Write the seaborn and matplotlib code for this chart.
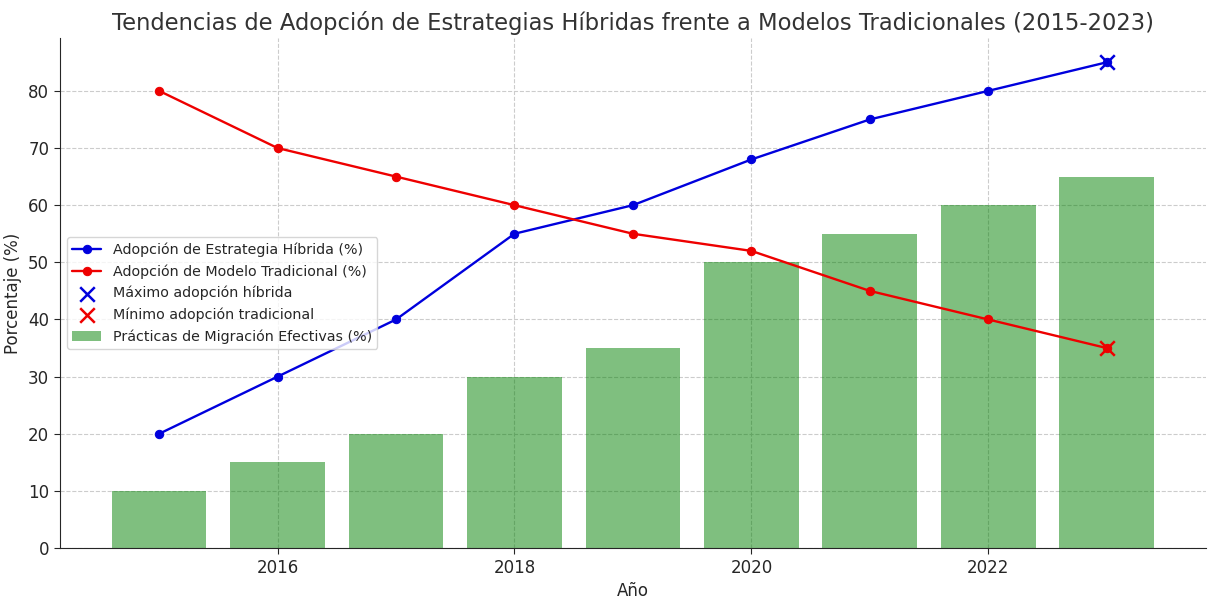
import numpy as np
import pandas as pd
import matplotlib
matplotlib.use("Agg")
import matplotlib.pyplot as plt
import seaborn as sns

years = [2015, 2016, 2017, 2018, 2019, 2020, 2021, 2022, 2023]
hibrida = [20, 30, 40, 55, 60, 68, 75, 80, 85]
tradicional = [80, 70, 65, 60, 55, 52, 45, 40, 35]
migracion = [10, 15, 20, 30, 35, 50, 55, 60, 65]

df = pd.DataFrame({"Año": years, "hibrida": hibrida,
                   "tradicional": tradicional, "migracion": migracion})

sns.set_style("white")
plt.rcParams['font.family'] = ['DejaVu Sans']

fig, ax = plt.subplots(figsize=(12.16, 6.03), dpi=100)

sns.barplot(data=df, x="Año", y="migracion", native_scale=True, color="green",
            alpha=0.5, width=0.8, saturation=1, linewidth=0, edgecolor="none",
            ax=ax, label="Prácticas de Migración Efectivas (%)", zorder=1)
sns.lineplot(data=df, x="Año", y="hibrida", color="#0000dd", marker="o",
             markeredgecolor="#0000dd", linewidth=1.7, markersize=6, ax=ax,
             label="Adopción de Estrategia Híbrida (%)", zorder=3)
sns.lineplot(data=df, x="Año", y="tradicional", color="#ee0000", marker="o",
             markeredgecolor="#ee0000", linewidth=1.7, markersize=6, ax=ax,
             label="Adopción de Modelo Tradicional (%)", zorder=3)

i_max = int(np.argmax(hibrida))
i_min = int(np.argmin(tradicional))
ax.scatter([years[i_max]], [hibrida[i_max]], color="#0000dd", marker="x", s=110,
           linewidths=1.8, label="Máximo adopción híbrida", zorder=4)
ax.scatter([years[i_min]], [tradicional[i_min]], color="#ee0000", marker="x", s=110,
           linewidths=1.8, label="Mínimo adopción tradicional", zorder=4)

ax.set_title("Tendencias de Adopción de Estrategias Híbridas frente a Modelos Tradicionales (2015-2023)",
             fontsize=16.3, color="#333333")
ax.set_xlabel("Año", fontsize=12)
ax.set_ylabel("Porcentaje (%)", fontsize=12)
ax.tick_params(axis="both", labelsize=12, length=4, left=True, bottom=True)
ax.grid(True, linestyle="--", color="#cccccc", linewidth=0.8)
ax.set_axisbelow(True)
sns.despine(ax=ax)

handles, labels = ax.get_legend_handles_labels()
order = ["Adopción de Estrategia Híbrida (%)", "Adopción de Modelo Tradicional (%)",
         "Máximo adopción híbrida", "Mínimo adopción tradicional",
         "Prácticas de Migración Efectivas (%)"]
hl = dict(zip(labels, handles))
ax.legend([hl[k] for k in order], order, loc="center left", fontsize=10.3)

fig.subplots_adjust(left=0.049, right=0.992, top=0.937, bottom=0.091)
fig.savefig("out.png", dpi=100)
